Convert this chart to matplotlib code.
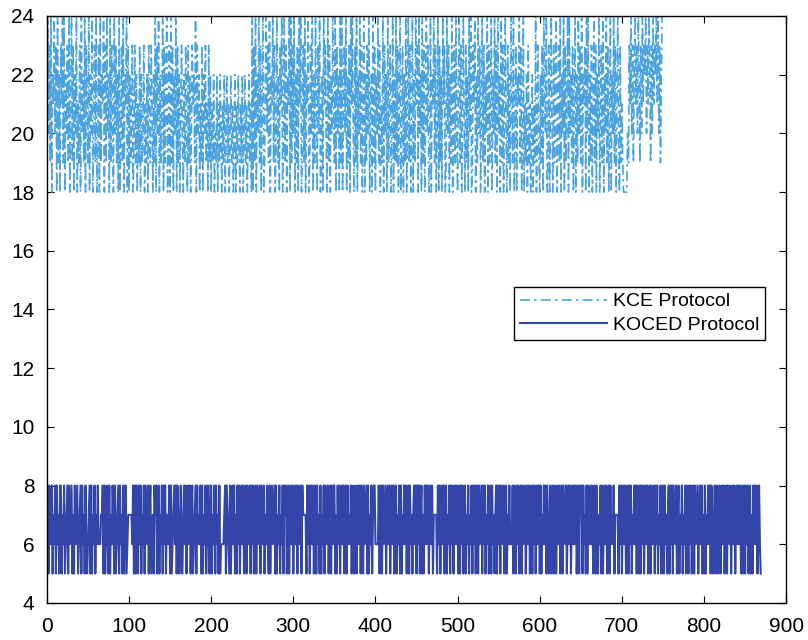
import matplotlib
matplotlib.use("Agg")
import matplotlib.pyplot as plt
import numpy as np

plt.rcParams["font.family"] = ["Liberation Sans", "DejaVu Sans"]

# KCE protocol values, stored as offsets from 18 (one digit per round)
kce_base = 18
kce_digits = """
0625160436 2506140536 1604251603 6150426031 5062416053
1604260351 6025061436 0516240615 3062514060 2516043605
0413502514 0315041250 3140521530 4160526041 3605146025
0615042605 1403520415 3051402534 1605240315 0425130514
0314021403 1420314024 1302413024 0314203140 2413024130
6051604261 5036014625 1604361502 6140536026 1504360615
2604150636 0251604360 1526041630 5260140635 2061504263
1605240616 0352604150 6362051604 2615036041 5260340615
0426150316 0524061350 2604161503 6025041603 6150260416
3506240615 0362501604 3615026051 4063501625 0416035162
0461503620 5140626015 3604162503 6150426051 3604261506
2406150362 0514063160 2504361502 6031405130 2403160251
0415063260 1503620514 6035160426 0513606241 5036041625
1604350626 0415036150 4260351604 2615036042 6150362051
3100000215 3625146352 6415263546 2536415263 5463625146
"""

# KOCED protocol values (one digit per round)
koced_digits = """
5858768576 8586758857 6856785867 8575867856 7858675865
6785857685 7686667785 8578658576 8758567858 6758578567
7777685858 7586857685 8768578567 5878568576 8586857768
5856786858 7568557868 5786857856 7858676858 5768578658
8576858675 8566667858 7658578685 7586857868 5785867858
6857858678 5876857686 5857867858 5768576858 7856857868
5786858768 5877775868 5786857858 6758576858 7685785868
8575868578 6857858676 8578568578 6858758678 5857685788
6666857858 6785786857 8685785768 5857686857 8586757868
5868578575 8686857868 5777758685 7868578576 8586857868
7585868578 5768576858 6857858678 5868576857 8586757858
6858768578 5768666858 7586857858 6785786857 8586857868
5857686858 7568578568 5786857858 7685786857 8686857858
7858675858 7686857858 6576858578 6857858676 8577775868
5786857858 6857686858 7585868578 6857858678 5868576857
8586757858 6858768578 5768576858 7586857858 6785786857
5857686858 7568578568 5786857858 7685786857 8686857858
5868578575 8686857865
"""

kce = [kce_base + int(c) for c in kce_digits if c.isdigit()]
koced = [int(c) for c in koced_digits if c.isdigit()]

fig = plt.figure(figsize=(8.08, 6.4), dpi=100)
ax = fig.add_axes([0.058, 0.058, 0.915, 0.917])

ax.plot(np.arange(len(kce)), kce, color="#4aa2df", lw=1.2,
        linestyle=(0, (6, 2.5, 1.5, 2.5)), label="KCE Protocol")
ax.plot(np.arange(len(koced)), koced, color="#3345a8", lw=1.5,
        label="KOCED Protocol")

ax.set_xlim(0, 900)
ax.set_ylim(4, 24)
ax.set_xticks(np.arange(0, 901, 100))
ax.set_yticks(np.arange(4, 25, 2))
ax.tick_params(direction="in", top=True, right=True, labelsize=15, length=5)
ax.tick_params(axis="y", pad=9)
ax.tick_params(axis="x", pad=10)
for s in ax.spines.values():
    s.set_linewidth(1.0)

leg = ax.legend(loc="upper right", bbox_to_anchor=(0.985, 0.555), fontsize=14,
                fancybox=False, edgecolor="black", framealpha=1,
                handlelength=4.5, borderpad=0.3, labelspacing=0.3,
                handletextpad=0.3)
leg.get_frame().set_linewidth(1.0)

fig.savefig("out.png", dpi=100)
